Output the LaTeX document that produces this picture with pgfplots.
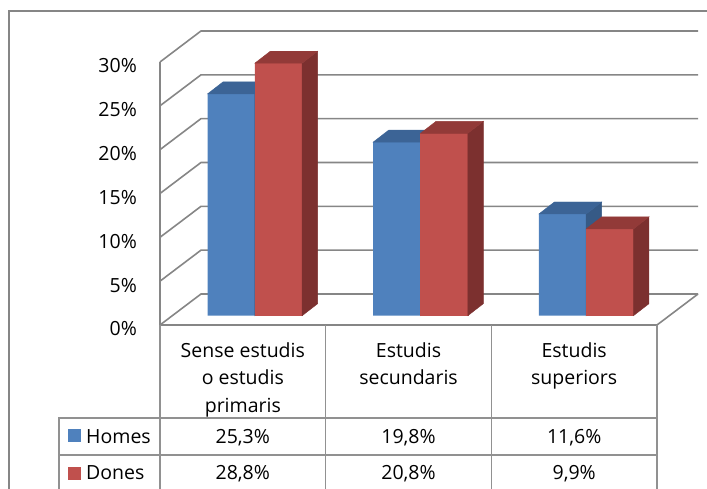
\documentclass[border=0pt]{standalone}
\usepackage{fontspec}
\setmainfont{Open Sans}
\usepackage{pgfplots}
\pgfplotsset{compat=1.18}
\usepackage{pgfplotstable}
\definecolor{hfront}{RGB}{79,129,189}
\definecolor{htop}{RGB}{60,100,150}
\definecolor{hside}{RGB}{54,90,134}
\definecolor{dfront}{RGB}{192,80,77}
\definecolor{dtop}{RGB}{146,58,56}
\definecolor{dside}{RGB}{124,48,47}
\definecolor{gridc}{RGB}{134,134,134}
\definecolor{tabc}{RGB}{145,145,145}
\pgfplotstableread{
x homes dones
0.5 25.3 28.8
1.5 19.8 20.8
2.5 11.6 9.9
}\datatable
\pgfdeclareplotmark{empty}{}
\begin{document}
\begin{tikzpicture}[font=\fontsize{19.5}{27.5}\selectfont]
\useasboundingbox (0pt,0pt) rectangle (707pt,489pt);
% outer frame
\draw[gridc, line width=1.2pt] (9pt,0pt) -- (9pt,478pt) -- (707pt,478pt);
% walls and floor grid
\foreach \v in {0,5,...,30}{
  \pgfmathsetlengthmacro{\yy}{164+\v*8.767}
  \draw[gridc, line width=1.6pt] (160pt,\yy) -- ++(41pt,31pt) -- ++(497pt,0pt);
}
\draw[gridc, line width=1.6pt] (160pt,164pt) -- (160pt,427pt);
\draw[gridc, line width=1.6pt] (160pt,164pt) -- (657pt,164pt) -- ++(41pt,31pt);
\begin{axis}[
  at={(160pt,164pt)}, anchor=origin,
  x=165.67pt, y=8.767pt,
  xmin=0, xmax=3, ymin=0, ymax=30,
  clip=false,
  axis line style={draw=none},
  tick style={draw=none},
  ytick={0,5,...,30},
  yticklabels={0\%,5\%,10\%,15\%,20\%,25\%,30\%},
  yticklabel style={anchor=east, inner sep=0pt, xshift=-23pt, yshift=-4pt},
  xtick={0.5,1.5,2.5},
  xticklabels={{Sense estudis\\o estudis\\primaris},{Estudis\\secundaris},{Estudis\\superiors}},
  xticklabel style={anchor=north, align=center, inner sep=0pt, yshift=-17pt},
]
\addplot[ybar, bar width=47.3pt, bar shift=-11.65pt, fill=hfront, draw=none, yshift=9.3pt]
  table[x=x,y=homes]{\datatable};
\addplot[only marks, mark=empty, scatter,
  visualization depends on={\thisrow{homes} \as \val},
  scatter/@pre marker code/.code={%
    \pgfmathsetlengthmacro{\yb}{9.3-\val*8.767}%
    \pgfmathsetlengthmacro{\yc}{21.3-\val*8.767}%
    \fill[hside] (12pt,9.3pt) -- (27.5pt,21.3pt) -- (27.5pt,\yc) -- (12pt,\yb) -- cycle;
    \fill[htop] (-35.3pt,9.3pt) -- (12pt,9.3pt) -- (27.5pt,21.3pt) -- (-19.8pt,21.3pt) -- cycle;
  },
  scatter/@post marker code/.code={}]
  table[x=x,y=homes]{\datatable};
\addplot[ybar, bar width=47.3pt, bar shift=35.65pt, fill=dfront, draw=none, yshift=9.3pt]
  table[x=x,y=dones]{\datatable};
\addplot[only marks, mark=empty, scatter,
  visualization depends on={\thisrow{dones} \as \val},
  scatter/@pre marker code/.code={%
    \pgfmathsetlengthmacro{\yb}{9.3-\val*8.767}%
    \pgfmathsetlengthmacro{\yc}{21.3-\val*8.767}%
    \fill[dfront] (12pt,\yb) rectangle (59.3pt,9.3pt);
    \fill[dside] (59.3pt,9.3pt) -- (74.8pt,21.3pt) -- (74.8pt,\yc) -- (59.3pt,\yb) -- cycle;
    \fill[dtop] (12pt,9.3pt) -- (59.3pt,9.3pt) -- (74.8pt,21.3pt) -- (27.5pt,21.3pt) -- cycle;
  },
  scatter/@post marker code/.code={}]
  table[x=x,y=dones]{\datatable};
\end{axis}
% data table
\begin{scope}[tabc, line width=1.3pt]
\draw (160pt,0pt) -- (160pt,164pt);
\draw (325.7pt,0pt) -- (325.7pt,164pt);
\draw (491.3pt,0pt) -- (491.3pt,164pt);
\draw (657pt,0pt) -- (657pt,164pt);
\draw (59pt,0pt) -- (59pt,71pt) -- (657pt,71pt);
\draw (59pt,34pt) -- (657pt,34pt);
\end{scope}
\fill[hfront] (68pt,47pt) rectangle (80.5pt,60pt);
\fill[dfront] (68pt,9pt) rectangle (80.5pt,22pt);
\node[anchor=base west, inner sep=0pt] at (86pt,45pt) {Homes};
\node[anchor=base west, inner sep=0pt] at (86pt,9pt) {Dones};
\node[anchor=base, inner sep=0pt] at (242.8pt,45pt) {25,3\%};
\node[anchor=base, inner sep=0pt] at (408.5pt,45pt) {19,8\%};
\node[anchor=base, inner sep=0pt] at (574.2pt,45pt) {11,6\%};
\node[anchor=base, inner sep=0pt] at (242.8pt,9pt) {28,8\%};
\node[anchor=base, inner sep=0pt] at (408.5pt,9pt) {20,8\%};
\node[anchor=base, inner sep=0pt] at (574.2pt,9pt) {9,9\%};
\end{tikzpicture}
\end{document}
